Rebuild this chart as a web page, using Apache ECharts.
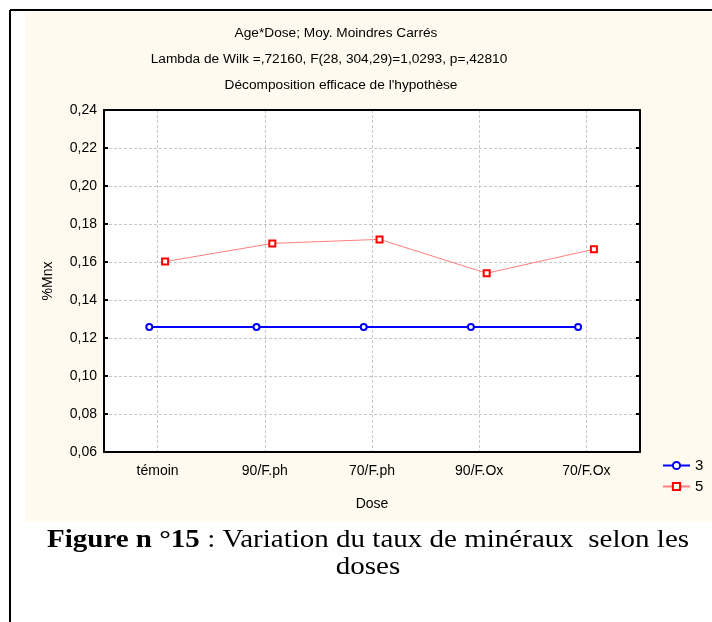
<!DOCTYPE html>
<html>
<head>
<meta charset="utf-8">
<script src="https://cdn.jsdelivr.net/npm/echarts@6/dist/echarts.min.js"></script>
<style>html,body{margin:0;padding:0;background:#fff;}#c{width:712px;height:622px;}</style>
</head>
<body>
<div id="c"></div>
<script>
var categories = ['témoin', '90/F.ph', '70/F.ph', '90/F.Ox', '70/F.Ox'];
var series3 = [0.1258, 0.1258, 0.1258, 0.1258, 0.1258];
var series5 = [0.1602, 0.1698, 0.1719, 0.1541, 0.1667];
var yTicks = { min: 0.06, max: 0.24, interval: 0.02 };
var titleLines = ['Age*Dose; Moy. Moindres Carrés', 'Lambda de Wilk =,72160, F(28, 304,29)=1,0293, p=,42810', "Décomposition efficace de l'hypothèse"];

var chart = echarts.init(document.getElementById('c'), null, { renderer: 'canvas' });
var FONT = 'Liberation Sans, Arial, sans-serif';
var SERIF = 'Liberation Serif, Times New Roman, serif';
var plot = { left: 104, top: 110, width: 536, height: 342 };
var dodgeBlue = -8.3, dodgeRed = 7.5;
var dash = { color: '#c8c8c8', width: 1, type: [3, 2] };

function hiddenX(gi) {
  return { type: 'category', gridIndex: gi, data: categories, boundaryGap: true, show: false };
}
function hiddenY(gi) {
  return { type: 'value', gridIndex: gi, min: yTicks.min, max: yTicks.max, interval: yTicks.interval, show: false, splitLine: { show: false } };
}

var option = {
  animation: false,
  backgroundColor: '#ffffff',
  graphic: [
    { type: 'rect', shape: { x: 25, y: 12, width: 700, height: 510 }, style: { fill: '#fefaef' }, z: -10 },
    { type: 'line', shape: { x1: 10, y1: 10, x2: 712, y2: 10 }, style: { stroke: '#000', lineWidth: 2 }, z: -9 },
    { type: 'line', shape: { x1: 10, y1: 10, x2: 10, y2: 622 }, style: { stroke: '#000', lineWidth: 2 }, z: -9 },
    { type: 'text', x: 336, y: 33, style: { text: titleLines[0], font: '13.7px ' + FONT, fill: '#000', align: 'center', verticalAlign: 'middle' } },
    { type: 'text', x: 329, y: 59, style: { text: titleLines[1], font: '13.7px ' + FONT, fill: '#000', align: 'center', verticalAlign: 'middle' } },
    { type: 'text', x: 341, y: 85, style: { text: titleLines[2], font: '13.7px ' + FONT, fill: '#000', align: 'center', verticalAlign: 'middle' } },
    { type: 'text', x: 368, y: 541, scaleX: 1.18, style: {
        text: '{b|Figure n °15} : Variation du taux de minéraux  selon les',
        font: '24.6px ' + SERIF, fill: '#000', align: 'center', verticalAlign: 'middle',
        rich: { b: { fontWeight: 'bold', fontSize: 24.6, fontFamily: 'Liberation Serif' } } } },
    { type: 'text', x: 368, y: 568, scaleX: 1.18, style: { text: 'doses', font: '24.6px ' + SERIF, fill: '#000', align: 'center', verticalAlign: 'middle' } }
  ],
  legend: {
    orient: 'vertical', left: 657, top: 453, itemWidth: 27, itemHeight: 9, itemGap: 6,
    textStyle: { fontFamily: FONT, fontSize: 15, color: '#000' },
    data: ['3', '5']
  },
  grid: [
    { left: plot.left, top: plot.top, width: plot.width, height: plot.height, show: true, backgroundColor: '#ffffff', borderWidth: 0 },
    { left: plot.left + dodgeBlue, top: plot.top, width: plot.width, height: plot.height, show: false },
    { left: plot.left + dodgeRed, top: plot.top, width: plot.width, height: plot.height, show: false }
  ],
  xAxis: [
    { type: 'category', gridIndex: 0, position: 'bottom', data: categories, boundaryGap: true,
      axisLine: { lineStyle: { color: '#000', width: 2 } },
      axisTick: { inside: true, length: 4, alignWithLabel: true, lineStyle: { color: '#000', width: 2 } },
      splitLine: { show: true, alignWithLabel: true, lineStyle: dash },
      axisLabel: { fontFamily: FONT, fontSize: 14, color: '#000', margin: 12 },
      name: 'Dose', nameLocation: 'middle', nameGap: 45, nameTextStyle: { fontFamily: FONT, fontSize: 14, color: '#000' } },
    { type: 'category', gridIndex: 0, position: 'top', data: categories, boundaryGap: true,
      axisLine: { lineStyle: { color: '#000', width: 2 } },
      axisTick: { inside: true, length: 4, alignWithLabel: true, lineStyle: { color: '#000', width: 2 } },
      axisLabel: { show: false }, splitLine: { show: false } },
    hiddenX(1), hiddenX(2)
  ],
  yAxis: [
    { type: 'value', gridIndex: 0, position: 'left', min: yTicks.min, max: yTicks.max, interval: yTicks.interval,
      axisLine: { show: true, lineStyle: { color: '#000', width: 2 } },
      axisTick: { show: true, inside: true, length: 4, lineStyle: { color: '#000', width: 2 } },
      splitLine: { show: true, lineStyle: dash },
      axisLabel: { fontFamily: FONT, fontSize: 14, color: '#000', margin: 7, formatter: function (v) { return v.toFixed(2).replace('.', ','); } },
      name: '%Mnx', nameLocation: 'middle', nameGap: 49, nameRotate: 90, nameTextStyle: { fontFamily: FONT, fontSize: 14, color: '#000' } },
    { type: 'value', gridIndex: 0, position: 'right', min: yTicks.min, max: yTicks.max, interval: yTicks.interval,
      axisLine: { show: true, lineStyle: { color: '#000', width: 2 } },
      axisTick: { show: true, inside: true, length: 4, lineStyle: { color: '#000', width: 2 } },
      splitLine: { show: false }, axisLabel: { show: false } },
    hiddenY(1), hiddenY(2)
  ],
  series: [
    { name: '3', type: 'line', xAxisIndex: 2, yAxisIndex: 2, data: series3,
      symbol: 'circle', symbolSize: 6, showAllSymbol: true,
      lineStyle: { color: '#0000ff', width: 2 },
      itemStyle: { color: '#ffffff', borderColor: '#0000ff', borderWidth: 2 }, z: 3 },
    { name: '5', type: 'line', xAxisIndex: 3, yAxisIndex: 3, data: series5,
      symbol: 'rect', symbolSize: 6, showAllSymbol: true,
      lineStyle: { color: '#ff8080', width: 1 },
      itemStyle: { color: '#ffffff', borderColor: '#ff0000', borderWidth: 2 }, z: 3 }
  ]
};
chart.setOption(option);
</script>
</body>
</html>
